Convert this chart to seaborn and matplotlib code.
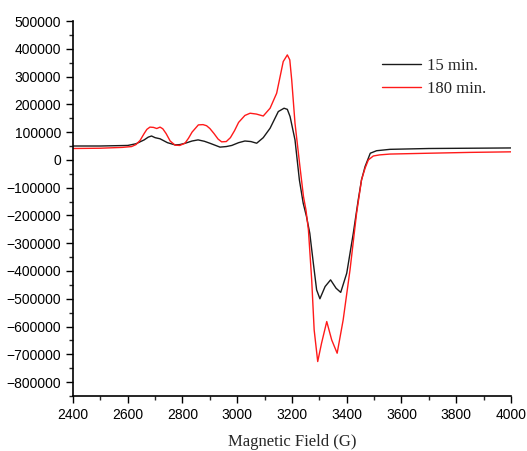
import matplotlib

matplotlib.use('Agg')
import matplotlib.pyplot as plt
from matplotlib.ticker import MultipleLocator
import seaborn as sns
import pandas as pd

# EPR spectra
field_15 = [2400, 2500, 2600, 2630, 2660, 2675, 2687, 2700, 2718, 2745, 2773, 2790, 2810,
            2835, 2857, 2880, 2900, 2937, 2960, 2980, 3005, 3028, 3050, 3071, 3095, 3120,
            3150, 3171, 3183, 3193, 3211, 3227, 3241, 3253, 3265, 3278, 3290, 3302, 3321,
            3341, 3361, 3378, 3400, 3424, 3442, 3454, 3467, 3486, 3509, 3558, 3700, 3850,
            4000]
signal_15 = [50000, 50000, 52000, 58000, 72000, 82000, 86000, 80000, 76000, 62000, 54000,
             55000, 60000, 68000, 72000, 67000, 60000, 46000, 48000, 52000, 62000, 68000,
             66000, 60000, 80000, 114000, 174000, 186000, 182000, 156000, 72000, -72000,
             -156000, -204000, -264000, -372000, -468000, -500000, -456000, -432000,
             -462000, -477000, -408000, -264000, -144000, -72000, -24000, 24000, 33000,
             38000, 41000, 42000, 43000]

field_180 = [2400, 2500, 2580, 2614, 2630, 2645, 2660, 2670, 2681, 2694, 2706, 2718, 2728,
             2740, 2755, 2773, 2790, 2809, 2822, 2835, 2858, 2875, 2888, 2900, 2915, 2930,
             2943, 2960, 2975, 2990, 3005, 3028, 3047, 3070, 3095, 3120, 3144, 3168, 3183,
             3192, 3199, 3211, 3229, 3242, 3251, 3260, 3272, 3281, 3294, 3308, 3327, 3345,
             3365, 3387, 3412, 3436, 3454, 3467, 3479, 3497, 3520, 3558, 3700, 3850, 4000]
signal_180 = [41000, 42000, 45000, 48000, 55000, 70000, 95000, 110000, 118000, 117000,
              113000, 118000, 112000, 95000, 68000, 53000, 52000, 60000, 78000, 100000,
              126000, 127000, 123000, 113000, 95000, 75000, 65000, 66000, 80000, 105000,
              135000, 160000, 168000, 165000, 158000, 186000, 240000, 354000, 378000,
              360000, 288000, 132000, -24000, -132000, -180000, -252000, -432000, -612000,
              -726000, -660000, -582000, -648000, -696000, -576000, -396000, -192000,
              -72000, -30000, 0, 14000, 18000, 21000, 24000, 27000, 29000]

labels = ['15 min.', '180 min.']

df = pd.concat([
    pd.DataFrame({'field': field_15, 'signal': signal_15, 'time': labels[0]}),
    pd.DataFrame({'field': field_180, 'signal': signal_180, 'time': labels[1]}),
])

sns.set_style('ticks')
plt.rcParams['font.family'] = ['Liberation Sans', 'DejaVu Sans']

fig = plt.figure(figsize=(5.27, 4.51), dpi=100)
ax = fig.add_axes([0.1385, 0.122, 0.8311, 0.8314])

sns.lineplot(data=df, x='field', y='signal', hue='time', sort=False,
             palette={labels[0]: '#1a1a1a', labels[1]: '#ff1a1a'},
             linewidth=1.0, ax=ax)

ax.set_xlim(2400, 4000)
ax.set_ylim(-850000, 500000)
ax.xaxis.set_major_locator(MultipleLocator(200))
ax.xaxis.set_minor_locator(MultipleLocator(100))
ax.yaxis.set_major_locator(MultipleLocator(100000))
ax.yaxis.set_minor_locator(MultipleLocator(50000))
ax.tick_params(which='major', direction='out', length=5, width=1, labelsize=10, colors='black')
ax.tick_params(which='minor', direction='out', length=3, width=1)
sns.despine(ax=ax)
for s in ['left', 'bottom']:
    ax.spines[s].set_linewidth(1.2)
    ax.spines[s].set_color('black')

ax.set_xlabel('Magnetic Field (G)', family=['Liberation Serif'], fontsize=12, labelpad=9)
ax.set_ylabel('')

leg = ax.legend(loc='upper left', bbox_to_anchor=(0.7055, 0.902), frameon=False,
                handlelength=2.35, handletextpad=0.35, labelspacing=0.42,
                borderpad=0, borderaxespad=0, prop={'family': 'Liberation Serif', 'size': 12})
for line in leg.get_lines():
    line.set_linewidth(1.0)

fig.savefig('out.png', dpi=100)
